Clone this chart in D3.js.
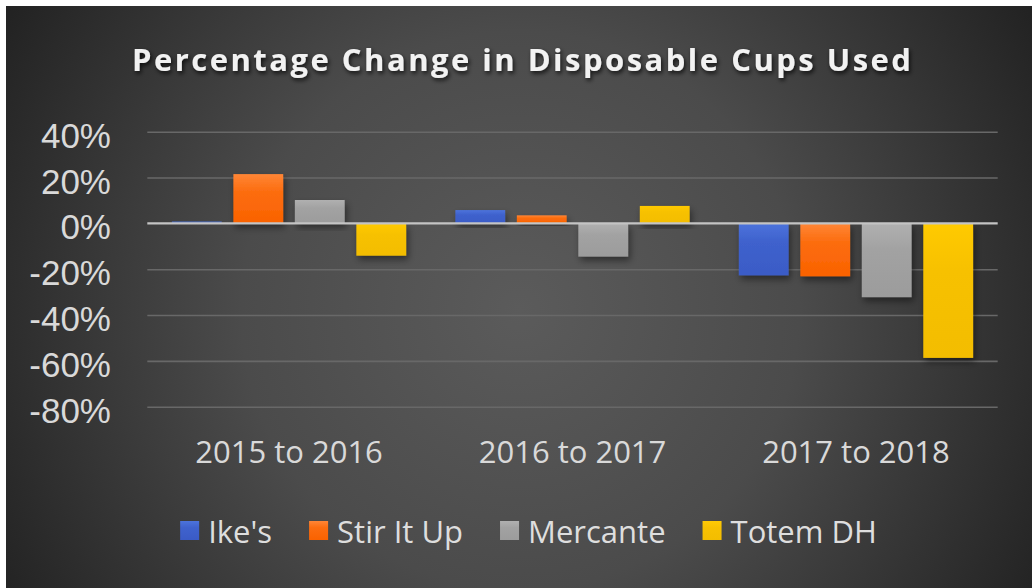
<!DOCTYPE html>
<html>
<head>
<meta charset="utf-8">
<script src="https://cdn.jsdelivr.net/npm/d3@7/dist/d3.min.js"></script>
<style>
  html, body { margin: 0; padding: 0; background: #ffffff; }
  svg { display: block; }
</style>
</head>
<body>
<svg id="chart" width="1032" height="588"></svg>
<script>
// ---- data ----
const title = "Percentage Change in Disposable Cups Used";
const categories = ["2015 to 2016", "2016 to 2017", "2017 to 2018"];
const seriesNames = ["Ike's", "Stir It Up", "Mercante", "Totem DH"];
const ikes      = [0.008, 0.058, -0.227];
const stirItUp  = [0.215, 0.035, -0.231];
const mercante  = [0.102, -0.145, -0.322];
const totemDH   = [-0.141, 0.076, -0.587];
const tickValues = [0.4, 0.2, 0, -0.2, -0.4, -0.6, -0.8];
const seriesColors = [
  ["#4c73dc", "#3a5bc6"],
  ["#ff8636", "#fa6200"],
  ["#b0b0b0", "#9c9c9c"],
  ["#ffca05", "#f3bd00"]
];

const seriesValues = [ikes, stirItUp, mercante, totemDH];
const rows = [];
categories.forEach((c, ci) => {
  seriesNames.forEach((s, si) => rows.push({ cat: c, series: s, si, value: seriesValues[si][ci] }));
});

const svg = d3.select("#chart");
const defs = svg.append("defs");

// background gradient
const bg = defs.append("radialGradient").attr("id", "bg")
  .attr("gradientUnits", "userSpaceOnUse")
  .attr("cx", 520).attr("cy", 310).attr("r", 620);
bg.append("stop").attr("offset", 0).attr("stop-color", "#5b5b5b");
bg.append("stop").attr("offset", 0.45).attr("stop-color", "#4b4b4b");
bg.append("stop").attr("offset", 1).attr("stop-color", "#1f1f1f");

seriesColors.forEach((c, i) => {
  const g = defs.append("linearGradient").attr("id", "bar" + i)
    .attr("x1", 0).attr("y1", 0).attr("x2", 0).attr("y2", 1);
  g.append("stop").attr("offset", 0).attr("stop-color", c[0]);
  g.append("stop").attr("offset", 0.35).attr("stop-color", d3.interpolateRgb(c[0], c[1])(0.7));
  g.append("stop").attr("offset", 1).attr("stop-color", c[1]);
});

const fShadow = defs.append("filter").attr("id", "barShadow")
  .attr("x", "-20%").attr("y", "-20%").attr("width", "150%").attr("height", "150%");
fShadow.append("feDropShadow").attr("dx", 2).attr("dy", 4).attr("stdDeviation", 3.5)
  .attr("flood-color", "#000").attr("flood-opacity", 0.45);

const tShadow = defs.append("filter").attr("id", "titleShadow")
  .attr("x", "-5%").attr("y", "-30%").attr("width", "110%").attr("height", "170%");
tShadow.append("feDropShadow").attr("dx", 1.5).attr("dy", 2.5).attr("stdDeviation", 2)
  .attr("flood-color", "#000").attr("flood-opacity", 0.75);

svg.append("rect").attr("x", 6).attr("y", 6).attr("width", 1026).attr("height", 582)
  .attr("fill", "url(#bg)");

// ---- scales ----
const plotLeft = 147.3, plotRight = 997.7;
const y = d3.scaleLinear().domain([-0.8, 0.4]).range([406.7, 131.7]);
const x0 = d3.scaleBand().domain(categories).range([plotLeft, plotRight]).padding(0);
const x1 = d3.scaleBand().domain(seriesNames).range([0, x0.bandwidth()])
  .paddingInner(0.19).paddingOuter(0.4);

// gridlines
const grid = svg.append("g").attr("transform", `translate(${plotLeft},0)`)
  .call(d3.axisLeft(y).tickValues(tickValues.filter(v => v !== 0))
    .tickSize(-(plotRight - plotLeft)).tickFormat(""));
grid.select(".domain").remove();
grid.selectAll("line").attr("stroke", "#686868").attr("stroke-width", 1.6);

// tick labels (hyphen-minus as in the reference)
const pct = d3.formatLocale({ decimal: ".", thousands: ",", grouping: [3],
  currency: ["", ""], minus: "-", percent: "%" }).format(".0%");
const yAxis = svg.append("g").attr("transform", `translate(111,0)`)
  .call(d3.axisLeft(y).tickValues(tickValues).tickSize(0).tickPadding(0)
    .tickFormat(pct));
yAxis.select(".domain").remove();
yAxis.selectAll("text")
  .attr("x", 0).attr("dy", null).attr("y", 15.5)
  .attr("fill", "#d9d9d9")
  .style("font-family", "'Liberation Sans', Arial, sans-serif")
  .style("font-size", "35px");

// bars
svg.append("g").selectAll("rect").data(rows).join("rect")
  .attr("x", d => x0(d.cat) + x1(d.series))
  .attr("width", x1.bandwidth())
  .attr("y", d => y(Math.max(0, d.value)))
  .attr("height", d => Math.abs(y(d.value) - y(0)))
  .attr("fill", d => `url(#bar${d.si})`)
  .attr("filter", "url(#barShadow)");

// zero line
svg.append("line").attr("x1", plotLeft).attr("x2", plotRight)
  .attr("y1", y(0)).attr("y2", y(0))
  .attr("stroke", "#c4c4c4").attr("stroke-width", 2.2);

// category labels
const xAxis = svg.append("g").attr("transform", `translate(0,463)`)
  .call(d3.axisBottom(x0).tickSize(0).tickPadding(0));
xAxis.select(".domain").remove();
xAxis.selectAll("text")
  .attr("y", 0).attr("dy", null)
  .attr("fill", "#d9d9d9")
  .style("font-family", "'Open Sans', sans-serif")
  .style("font-size", "31px");

// title
svg.append("text")
  .attr("x", 132).attr("y", 71)
  .attr("textLength", 779).attr("lengthAdjust", "spacing")
  .attr("fill", "#f2f2f2")
  .attr("filter", "url(#titleShadow)")
  .style("font-family", "'Open Sans', sans-serif")
  .style("font-weight", "700")
  .style("font-size", "31px")
  .text(title);

// legend
const legend = svg.append("g");
const items = legend.selectAll("g").data(seriesNames).join("g");
items.append("rect").attr("width", 19).attr("height", 19).attr("y", 521)
  .attr("fill", (d, i) => `url(#bar${i})`);
items.append("text").attr("x", 28).attr("y", 543.3)
  .attr("fill", "#dedede")
  .style("font-family", "'Open Sans', sans-serif")
  .style("font-size", "31px")
  .text(d => d);
let lx = 0;
const positions = [];
items.each(function () {
  const w = this.querySelector("text").getComputedTextLength();
  positions.push(lx);
  lx += 28 + w + 37;
});
const totalW = lx - 37;
const startX = 528.5 - totalW / 2;
items.attr("transform", (d, i) => `translate(${startX + positions[i]},0)`);
</script>
</body>
</html>
